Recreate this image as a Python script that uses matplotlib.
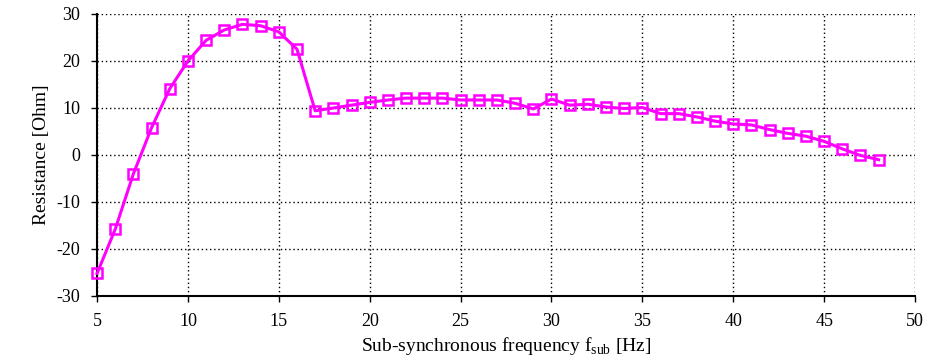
import matplotlib
matplotlib.use("Agg")
import matplotlib.pyplot as plt

plt.rcParams["font.family"] = ["Liberation Serif", "DejaVu Serif"]
plt.rcParams["mathtext.fontset"] = "custom"
plt.rcParams["mathtext.rm"] = "Liberation Serif"
plt.rcParams["axes.unicode_minus"] = False

# sub-synchronous frequency [Hz]
freq = list(range(5, 49))
# resistance [Ohm]
resistance = [
    -25.2, -15.8, -4.0, 5.8, 14.1, 20.0, 24.4, 26.6, 27.8, 27.5,
    26.2, 22.5, 9.4, 10.0, 10.6, 11.2, 11.7, 12.1, 12.1, 12.1,
    11.7, 11.7, 11.7, 11.0, 9.8, 11.9, 10.6, 10.8, 10.2, 9.9,
    10.1, 8.8, 8.8, 8.1, 7.2, 6.6, 6.4, 5.4, 4.6, 4.0,
    2.9, 1.3, -0.1, -1.0,
]
xticks = [5, 10, 15, 20, 25, 30, 35, 40, 45, 50]
yticks = [-30, -20, -10, 0, 10, 20, 30]

fig = plt.figure(figsize=(9.44, 3.63), dpi=100)
ax = fig.add_axes([0.1028, 0.1846, 0.8665, 0.7769])

ax.plot(freq, resistance, color="#ff00ff", linewidth=2.2, marker="s",
        markersize=6.5, markerfacecolor="none", markeredgecolor="#ff00ff",
        markeredgewidth=1.8, zorder=3, clip_on=False)

ax.set_xlim(5, 50)
ax.set_ylim(-30, 30)
ax.set_xticks(xticks)
ax.set_yticks(yticks)
ax.grid(True, color="black", linestyle=(0, (1, 2)), linewidth=1)
ax.tick_params(direction="out", length=4, width=1, labelsize=13, colors="black")
ax.tick_params(axis="y", pad=8)
ax.tick_params(axis="x", pad=8)
ax.spines["top"].set_visible(False)
ax.spines["right"].set_visible(False)
ax.spines["left"].set_linewidth(1.5)
ax.spines["bottom"].set_linewidth(1.5)

ax.set_xlabel("Sub-synchronous frequency f$_{\\rm sub}$ [Hz]", fontsize=14, labelpad=4)
ax.set_ylabel("Resistance [Ohm]", fontsize=14, labelpad=5)

fig.savefig("out.png", dpi=100)
